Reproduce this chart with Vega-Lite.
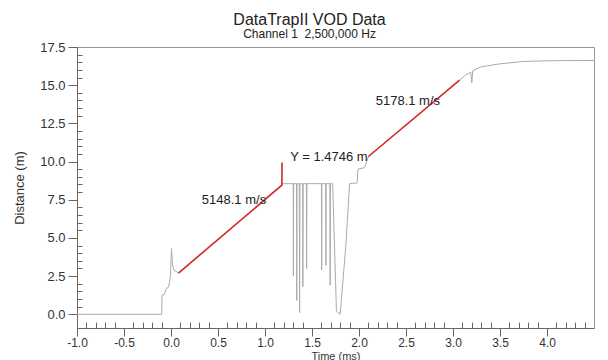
{
  "$schema": "https://vega.github.io/schema/vega-lite/v6.json",
  "autosize": "none",
  "width": 517,
  "height": 281,
  "padding": {"left": 77, "top": 47, "right": 14, "bottom": 32},
  "background": "white",
  "title": {
    "text": "DataTrapII VOD Data",
    "subtitle": "Channel 1\u00a0 2,500,000 Hz",
    "anchor": "middle",
    "dx": -26,
    "offset": 1,
    "font": "Liberation Sans",
    "fontSize": 16,
    "fontWeight": "normal",
    "color": "#222",
    "subtitleFont": "Liberation Sans",
    "subtitleFontSize": 12,
    "subtitleColor": "#222",
    "subtitlePadding": 1
  },
  "config": {
    "view": {"stroke": "#999", "strokeWidth": 1},
    "axis": {"labelFont": "Liberation Sans", "titleFont": "Liberation Sans", "labelFontSize": 13, "titleFontSize": 13, "titleFontWeight": "normal", "labelColor": "#333", "titleColor": "#333", "domainColor": "#666", "tickColor": "#666", "grid": false}
  },
  "datasets": {
    "trace": [
      {"t": -1.0, "d": 0}, {"t": -0.1, "d": 0}, {"t": -0.095, "d": 1.25}, {"t": -0.07, "d": 1.3},
      {"t": -0.05, "d": 1.7}, {"t": -0.03, "d": 1.75}, {"t": -0.015, "d": 2.1}, {"t": -0.005, "d": 2.6},
      {"t": 0.005, "d": 4.3}, {"t": 0.015, "d": 3.3}, {"t": 0.03, "d": 2.9}, {"t": 0.08, "d": 2.7},
      {"t": 1.18, "d": 8.45}, {"t": 1.19, "d": 8.55}, {"t": 1.30, "d": 8.55}, {"t": 1.302, "d": 2.5},
      {"t": 1.305, "d": 8.55}, {"t": 1.335, "d": 8.55}, {"t": 1.338, "d": 0.9}, {"t": 1.341, "d": 8.55},
      {"t": 1.365, "d": 8.55}, {"t": 1.368, "d": 0.1}, {"t": 1.372, "d": 8.55}, {"t": 1.40, "d": 8.55},
      {"t": 1.403, "d": 1.8}, {"t": 1.406, "d": 8.55}, {"t": 1.44, "d": 8.55}, {"t": 1.443, "d": 3.0},
      {"t": 1.446, "d": 8.55}, {"t": 1.60, "d": 8.55}, {"t": 1.603, "d": 2.9}, {"t": 1.606, "d": 8.55},
      {"t": 1.645, "d": 8.55}, {"t": 1.648, "d": 3.2}, {"t": 1.651, "d": 8.55}, {"t": 1.69, "d": 8.55},
      {"t": 1.693, "d": 1.9}, {"t": 1.696, "d": 8.55}, {"t": 1.72, "d": 8.55}, {"t": 1.76, "d": 0.2},
      {"t": 1.80, "d": 0.0}, {"t": 1.86, "d": 4.5}, {"t": 1.90, "d": 8.55}, {"t": 1.98, "d": 8.6},
      {"t": 1.99, "d": 9.5}, {"t": 2.06, "d": 9.6}, {"t": 2.10, "d": 10.33}, {"t": 3.07, "d": 15.33},
      {"t": 3.13, "d": 15.65}, {"t": 3.19, "d": 15.85}, {"t": 3.20, "d": 15.15}, {"t": 3.21, "d": 15.95},
      {"t": 3.3, "d": 16.2}, {"t": 3.5, "d": 16.4}, {"t": 3.75, "d": 16.55}, {"t": 4.0, "d": 16.6},
      {"t": 4.5, "d": 16.62}
    ],
    "fits": [
      {"seg": "a", "t": 0.08, "d": 2.7}, {"seg": "a", "t": 1.18, "d": 8.45}, {"seg": "a", "t": 1.181, "d": 9.93},
      {"seg": "b", "t": 2.10, "d": 10.33}, {"seg": "b", "t": 3.07, "d": 15.33}
    ],
    "labels": [
      {"t": 0.67, "d": 7.45, "label": "5148.1 m/s"},
      {"t": 1.68, "d": 10.3, "label": "Y = 1.4746 m"},
      {"t": 2.52, "d": 13.95, "label": "5178.1 m/s"}
    ]
  },
  "encoding": {
    "x": {
      "field": "t", "type": "quantitative",
      "scale": {"domain": [-1, 4.5], "nice": false, "zero": false},
      "axis": {
        "title": "Time (ms)", "titlePadding": 2, "titleFontSize": 11,
        "values": [-1.0,-0.9,-0.8,-0.7,-0.6,-0.5,-0.4,-0.3,-0.2,-0.1,0.0,0.1,0.2,0.3,0.4,0.5,0.6,0.7,0.8,0.9,1.0,1.1,1.2,1.3,1.4,1.5,1.6,1.7,1.8,1.9,2.0,2.1,2.2,2.3,2.4,2.5,2.6,2.7,2.8,2.9,3.0,3.1,3.2,3.3,3.4,3.5,3.6,3.7,3.8,3.9,4.0,4.1,4.2,4.3,4.4],
        "labelExpr": "abs(datum.value*2 - round(datum.value*2)) < 0.001 ? replace(format(datum.value, '.1f'), '\u2212', '-') : ''",
        "tickSize": {"condition": {"test": "abs(datum.value*2 - round(datum.value*2)) < 0.001", "value": 8}, "value": -6},
        "labelPadding": 1,
        "labelFontSize": 12,
        "labelFlush": false,
        "labelOverlap": false
      }
    },
    "y": {
      "field": "d", "type": "quantitative",
      "scale": {"domain": [-0.9, 17.5], "nice": false, "zero": false},
      "axis": {
        "title": "Distance (m)", "titlePadding": 13,
        "values": [0,0.5,1,1.5,2,2.5,3,3.5,4,4.5,5,5.5,6,6.5,7,7.5,8,8.5,9,9.5,10,10.5,11,11.5,12,12.5,13,13.5,14,14.5,15,15.5,16,16.5,17,17.5],
        "labelExpr": "abs(datum.value/2.5 - round(datum.value/2.5)) < 0.001 ? format(datum.value, '.1f') : ''",
        "tickSize": {"condition": {"test": "abs(datum.value/2.5 - round(datum.value/2.5)) < 0.001", "value": 9}, "value": -5},
        "labelPadding": 3,
        "labelOverlap": false
      }
    }
  },
  "layer": [
    {"data": {"name": "trace"}, "mark": {"type": "line", "color": "#ababab", "strokeWidth": 1}},
    {"data": {"name": "fits"}, "mark": {"type": "line", "color": "#d62728", "strokeWidth": 1.6}, "encoding": {"detail": {"field": "seg"}}},
    {"data": {"name": "labels"}, "mark": {"type": "text", "font": "Liberation Sans", "fontSize": 13, "color": "#222"}, "encoding": {"text": {"field": "label"}}}
  ]
}
